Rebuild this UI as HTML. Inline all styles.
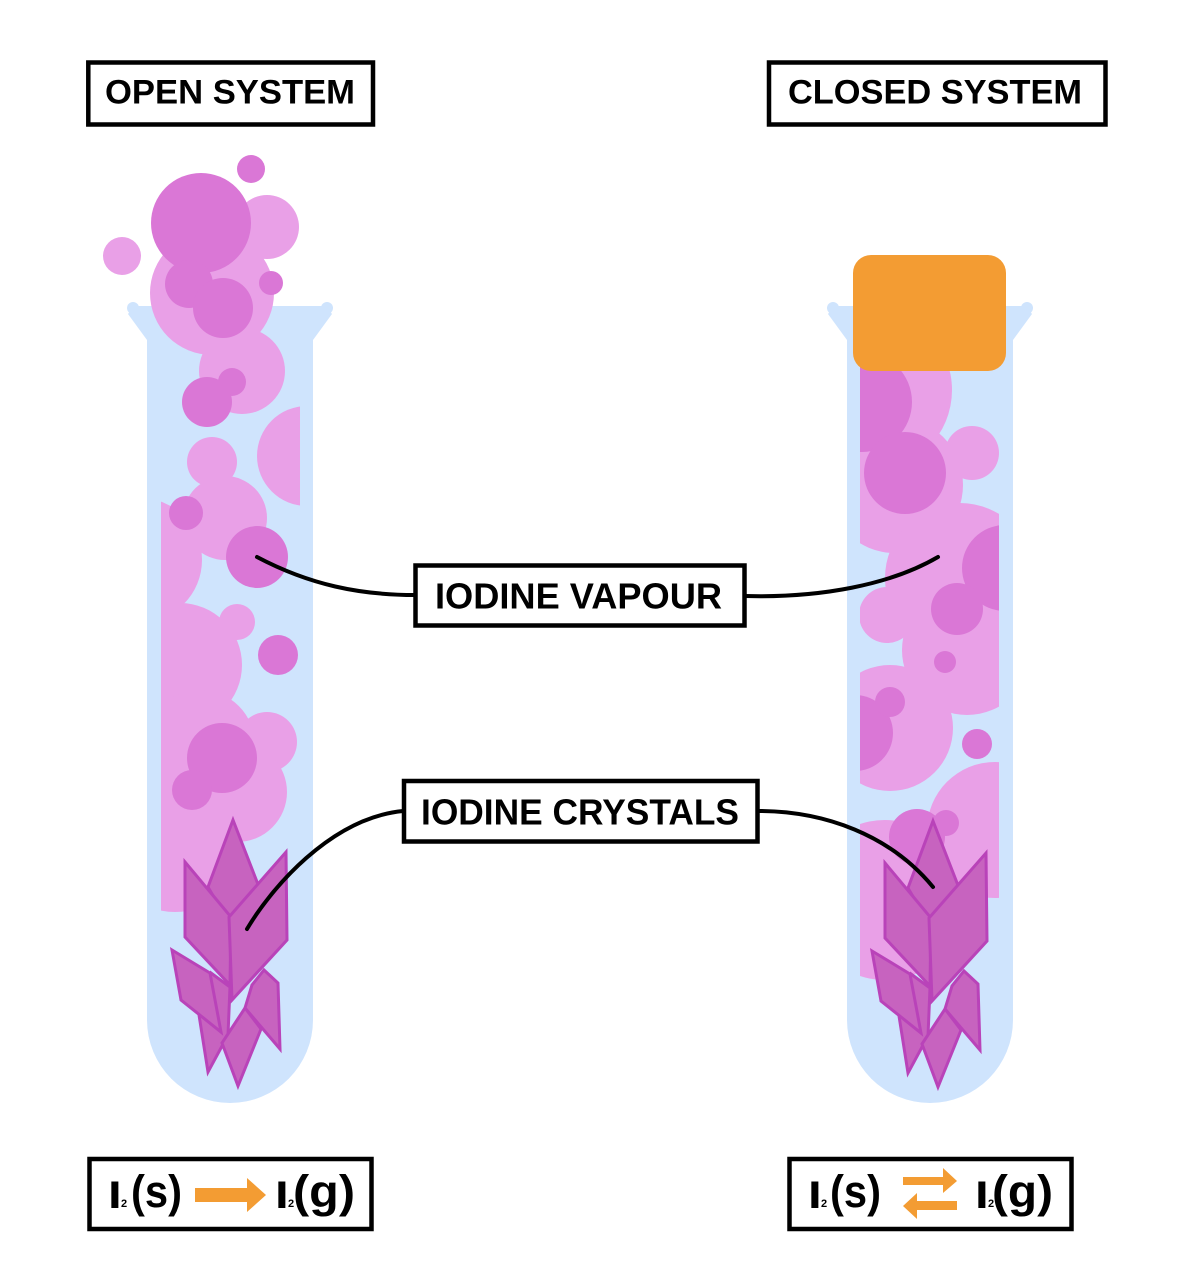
<!DOCTYPE html>
<html>
<head>
<meta charset="utf-8">
<style>
  html,body{margin:0;padding:0;background:#ffffff;}
  svg{display:block;}
  text{font-family:"Liberation Sans", Arial, sans-serif;font-weight:bold;fill:#000;}
</style>
</head>
<body>
<svg width="1191" height="1286" viewBox="0 0 1191 1286" xmlns="http://www.w3.org/2000/svg">
  <defs>
    <clipPath id="clipL">
      <rect x="0" y="0" width="1191" height="330"/>
      <rect x="161" y="330" width="139" height="800"/>
    </clipPath>
    <clipPath id="clipR">
      <rect x="860" y="330" width="139" height="800"/>
    </clipPath>
    <g id="crystals" fill="#c763bf" stroke="#b943b9" stroke-width="3" stroke-linejoin="miter">
      <polygon points="211,973 230,987 228,1035 208,1072 199,1015"/>
      <polygon points="264,970 278,983 280,1049 245,1008 252,985"/>
      <polygon points="245,1008 261,1029 238,1086 222,1043"/>
      <polygon points="172,950 210,973 221,1032 181,1000"/>
      <polygon points="233,820 259,887 233,930 208,887"/>
      <polygon points="185,862 231,917 230,985 185,937"/>
      <polygon points="286,852 287,940 232,1000 229,917"/>
    </g>
    <g id="tube" fill="#cfe4fd">
      <path d="M147,340 L128,314 L134,306 L326,306 L332,314 L313,340 L313,1020 A83,83 0 0 1 147,1020 Z"/>
      <circle cx="133" cy="308" r="6"/>
      <circle cx="327" cy="308" r="6"/>
    </g>
  </defs>

  <!-- Title boxes -->
  <rect x="88.3" y="62.5" width="284.7" height="62" fill="none" stroke="#000" stroke-width="4.5"/>
  <text x="105" y="103.5" font-size="34" textLength="250" lengthAdjust="spacingAndGlyphs">OPEN SYSTEM</text>
  <rect x="769" y="62.5" width="336.5" height="62" fill="none" stroke="#000" stroke-width="4.5"/>
  <text x="788" y="103.5" font-size="34" textLength="294" lengthAdjust="spacingAndGlyphs">CLOSED SYSTEM</text>

  <!-- Left tube -->
  <use href="#tube"/>
  <g clip-path="url(#clipL)">
    <g fill="#e9a0e7">
      <circle cx="122" cy="256" r="19"/>
      <circle cx="267" cy="227" r="32"/>
      <circle cx="212" cy="293" r="62"/>
      <circle cx="242" cy="371" r="43"/>
      <circle cx="307" cy="456" r="50"/>
      <circle cx="212" cy="462" r="25"/>
      <circle cx="225" cy="518" r="42"/>
      <circle cx="140" cy="560" r="62"/>
      <circle cx="237" cy="622" r="18"/>
      <circle cx="180" cy="665" r="62"/>
      <circle cx="200" cy="745" r="55"/>
      <circle cx="267" cy="742" r="30"/>
      <circle cx="237" cy="792" r="50"/>
      <circle cx="175" cy="845" r="67"/>
    </g>
    <g fill="#da77d6">
      <circle cx="251" cy="169" r="14"/>
      <circle cx="201" cy="223" r="50"/>
      <circle cx="189" cy="284" r="24"/>
      <circle cx="223" cy="308" r="30"/>
      <circle cx="271" cy="283" r="12"/>
      <circle cx="232" cy="382" r="14"/>
      <circle cx="207" cy="402" r="25"/>
      <circle cx="186" cy="513" r="17"/>
      <circle cx="257" cy="557" r="31"/>
      <circle cx="278" cy="655" r="20"/>
      <circle cx="222" cy="758" r="35"/>
      <circle cx="192" cy="790" r="20"/>
    </g>
  </g>
  <use href="#crystals"/>

  <!-- Right tube -->
  <use href="#tube" transform="translate(700,0)"/>
  <g clip-path="url(#clipR)">
    <g fill="#e9a0e7">
      <circle cx="870" cy="390" r="82"/>
      <circle cx="972" cy="453" r="27"/>
      <circle cx="895" cy="485" r="68"/>
      <circle cx="960" cy="578" r="75"/>
      <circle cx="887" cy="615" r="28"/>
      <circle cx="967" cy="650" r="65"/>
      <circle cx="890" cy="728" r="63"/>
      <circle cx="995" cy="830" r="68"/>
      <circle cx="885" cy="900" r="80"/>
    </g>
    <g fill="#da77d6">
      <circle cx="862" cy="402" r="50"/>
      <circle cx="905" cy="473" r="41"/>
      <circle cx="1005" cy="568" r="43"/>
      <circle cx="957" cy="609" r="26"/>
      <circle cx="945" cy="662" r="11"/>
      <circle cx="855" cy="733" r="38"/>
      <circle cx="890" cy="702" r="15"/>
      <circle cx="977" cy="744" r="15"/>
      <circle cx="917" cy="837" r="28"/>
      <circle cx="946" cy="823" r="13"/>
    </g>
  </g>
  <use href="#crystals" transform="translate(700,1)"/>
  <rect x="853" y="255" width="153" height="116" rx="18" ry="18" fill="#f39c33"/>

  <!-- Label boxes -->
  <rect x="415.5" y="565.5" width="329" height="60" fill="#fff" stroke="#000" stroke-width="4.5"/>
  <text x="435" y="608.5" font-size="36" textLength="287" lengthAdjust="spacingAndGlyphs">IODINE VAPOUR</text>
  <rect x="404" y="781" width="353.5" height="60.5" fill="#fff" stroke="#000" stroke-width="4.5"/>
  <text x="421" y="824.5" font-size="36" textLength="318" lengthAdjust="spacingAndGlyphs">IODINE CRYSTALS</text>

  <!-- Connectors -->
  <g fill="none" stroke="#000" stroke-width="4" stroke-linecap="round">
    <path d="M257,557 C310,585 360,595 415,595"/>
    <path d="M745,596 C820,598 890,585 938,557"/>
    <path d="M247,929 C270,890 330,818 403,811"/>
    <path d="M758,811 C825,811 890,835 933,887"/>
  </g>

  <!-- Equation boxes -->
  <rect x="89.5" y="1159" width="282" height="70" fill="none" stroke="#000" stroke-width="4.5"/>
  <text x="110" y="1207" font-size="35" stroke="#000" stroke-width="2">I</text>
  <text x="121" y="1207" font-size="11">2</text>
  <text x="131" y="1207" font-size="45" textLength="51" lengthAdjust="spacingAndGlyphs">(s)</text>
  <rect x="195" y="1188" width="53" height="14" fill="#f39c33"/>
  <polygon points="247,1178 266,1195 247,1212" fill="#f39c33"/>
  <text x="277" y="1207" font-size="35" stroke="#000" stroke-width="2">I</text>
  <text x="288" y="1207" font-size="11">2</text>
  <text x="293" y="1207" font-size="45" textLength="62" lengthAdjust="spacingAndGlyphs">(g)</text>

  <rect x="789.5" y="1159" width="282" height="70" fill="none" stroke="#000" stroke-width="4.5"/>
  <text x="810" y="1207" font-size="35" stroke="#000" stroke-width="2">I</text>
  <text x="821" y="1207" font-size="11">2</text>
  <text x="830" y="1207" font-size="45" textLength="51" lengthAdjust="spacingAndGlyphs">(s)</text>
  <rect x="903" y="1177" width="41" height="8" fill="#f39c33"/>
  <polygon points="943,1168 957,1181 943,1193" fill="#f39c33"/>
  <rect x="916" y="1201" width="41" height="9" fill="#f39c33"/>
  <polygon points="917,1193 903,1206 917,1219" fill="#f39c33"/>
  <text x="977" y="1207" font-size="35" stroke="#000" stroke-width="2">I</text>
  <text x="988" y="1207" font-size="11">2</text>
  <text x="992" y="1207" font-size="45" textLength="61" lengthAdjust="spacingAndGlyphs">(g)</text>
</svg>
</body>
</html>
